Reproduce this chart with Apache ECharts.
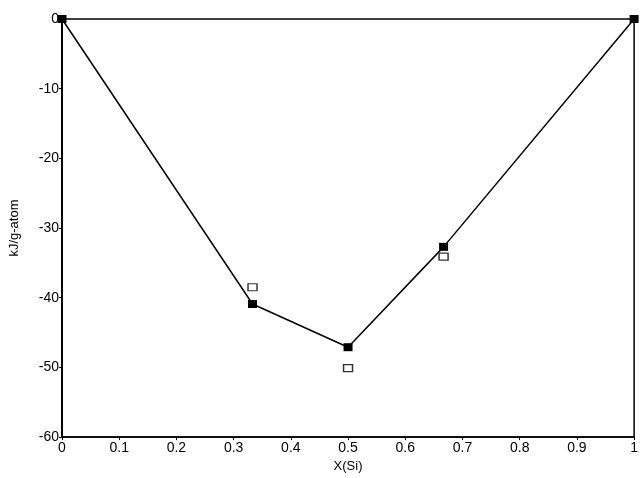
<!DOCTYPE html>
<html><head><meta charset="utf-8">
<script src="https://cdn.jsdelivr.net/npm/echarts@6/dist/echarts.min.js"></script>
<style>html,body{margin:0;padding:0;background:#fff}#c{width:641px;height:478px}</style>
</head><body><div id="c"></div>
<script>
const xFilled = [0, 0.333, 0.5, 0.667, 1];
const yFilled = [0, -40.9, -47.1, -32.7, 0];
const xOpen = [0.333, 0.5, 0.667];
const yOpen = [-38.5, -50.1, -34.1];
const xTicks = ['0','0.1','0.2','0.3','0.4','0.5','0.6','0.7','0.8','0.9','1'];
const yTicks = ['-60','-50','-40','-30','-20','-10','0'];

const chart = echarts.init(document.getElementById('c'));
const font = 'Liberation Sans, Arial, Helvetica, sans-serif';
chart.setOption({
  animation: false,
  grid: {left: 60, right: 3, top: 19, bottom: 35, show: true, borderColor: '#000', borderWidth: 1.5, containLabel: false},
  xAxis: {
    type: 'value', min: 0, max: 1, interval: 0.1,
    name: 'X(Si)', nameLocation: 'middle', nameGap: 21,
    nameTextStyle: {fontFamily: font, fontSize: 13, color: '#000'},
    axisLine: {show: true, onZero: false, lineStyle: {color: '#000', width: 1.5}},
    axisTick: {show: true, length: 3, lineStyle: {color: '#000'}},
    axisLabel: {fontFamily: font, fontSize: 14, color: '#000', margin: 4,
      formatter: v => { const i = Math.round(v * 10); return xTicks[i] !== undefined ? xTicks[i] : ''; }},
    splitLine: {show: false}
  },
  yAxis: {
    type: 'value', min: -60, max: 0, interval: 10,
    name: 'kJ/g-atom', nameLocation: 'middle', nameGap: 41, nameRotate: 90,
    nameTextStyle: {fontFamily: font, fontSize: 13, color: '#000'},
    axisLine: {show: true, onZero: false, lineStyle: {color: '#000', width: 2}},
    axisTick: {show: true, length: 3, lineStyle: {color: '#000'}},
    axisLabel: {fontFamily: font, fontSize: 14, color: '#000', margin: 3,
      formatter: v => { const i = Math.round((v + 60) / 10); return yTicks[i] !== undefined ? yTicks[i] : ''; }},
    splitLine: {show: false}
  },
  series: [
    {
      type: 'line', data: xFilled.map((x, i) => [x, yFilled[i]]),
      symbol: 'rect', symbolSize: [9, 8], showAllSymbol: true, clip: false,
      lineStyle: {color: '#000', width: 1.5},
      itemStyle: {color: '#000', borderColor: '#000', borderWidth: 0},
      z: 3
    },
    {
      type: 'scatter', data: xOpen.map((x, i) => [x, yOpen[i]]),
      symbol: 'rect', symbolSize: [9, 7],
      itemStyle: {color: '#fff', borderColor: '#000', borderWidth: 1.3},
      z: 2
    }
  ]
});
</script></body></html>
